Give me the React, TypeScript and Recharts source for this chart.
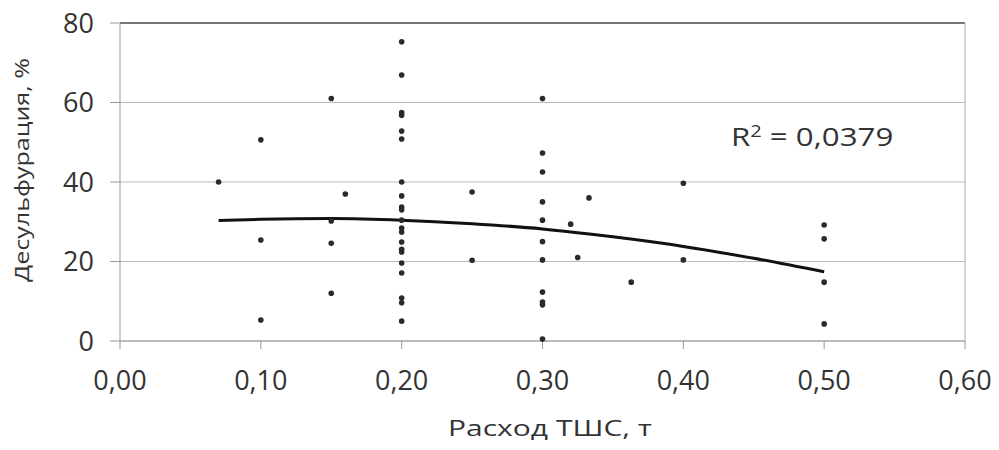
import { ComposedChart, Scatter, Line, XAxis, YAxis, CartesianGrid, ReferenceLine } from 'recharts';

// расход ТШС, т — по каждой точке
const pointX = [
  0.07,
  0.1, 0.1, 0.1,
  0.15, 0.15, 0.15, 0.15,
  0.16,
  0.2, 0.2, 0.2, 0.2, 0.2, 0.2, 0.2, 0.2, 0.2, 0.2, 0.2, 0.2, 0.2, 0.2, 0.2, 0.2, 0.2, 0.2, 0.2, 0.2, 0.2,
  0.25, 0.25,
  0.3, 0.3, 0.3, 0.3, 0.3, 0.3, 0.3, 0.3, 0.3, 0.3, 0.3,
  0.32, 0.325, 0.333, 0.363,
  0.4, 0.4,
  0.5, 0.5, 0.5, 0.5,
];

// десульфурация, %
const pointY = [
  40,
  50.6, 25.4, 5.3,
  61, 30.2, 24.6, 12,
  37,
  75.3, 66.9, 57.5, 56.8, 52.8, 50.8, 40, 36.5, 33.7, 33, 30.4, 28.4, 27.4, 24.9, 23.1, 22.4, 19.6, 17.1, 10.8, 9.6, 5,
  37.5, 20.3,
  61, 47.3, 42.5, 35, 30.4, 25, 20.4, 12.3, 9.8, 9.1, 0.5,
  29.4, 21, 36, 14.8,
  39.7, 20.4,
  29.2, 25.7, 14.8, 4.3,
];

// полиномиальная линия тренда
const trendX = [0.07, 0.1, 0.15, 0.2, 0.25, 0.3, 0.35, 0.4, 0.45, 0.5];
const trendY = [30.3, 30.6, 30.8, 30.4, 29.5, 28.2, 26.2, 23.8, 20.8, 17.4];

const xTicks = [0, 0.1, 0.2, 0.3, 0.4, 0.5, 0.6];
const yTicks = [0, 20, 40, 60, 80];

const points = pointX.map((x, i) => ({ x, y: pointY[i] }));
const trend = trendX.map((x, i) => ({ x, y: trendY[i] }));

const font = '"Open Sans", sans-serif';

const Dot = (props: any) => <circle cx={props.cx} cy={props.cy} r={2.8} fill="#2a2a2a" />;

const YTitle = () => (
  <text
    x={21}
    y={170}
    transform="rotate(-90 21 170)"
    textAnchor="middle"
    dominantBaseline="central"
    fontFamily={font}
    fontSize={20}
    fill="#333"
    textLength={224}
    lengthAdjust="spacingAndGlyphs"
  >
    Десульфурация, %
  </text>
);

const XTitle = () => (
  <text
    x={550}
    y={436}
    textAnchor="middle"
    fontFamily={font}
    fontSize={21}
    fill="#333"
    textLength={204}
    lengthAdjust="spacingAndGlyphs"
  >
    Расход ТШС, т
  </text>
);

export default function App() {
  return (
    <div style={{ position: 'relative', width: 999, height: 450, margin: -8, background: '#fff', fontFamily: font }}>
      <ComposedChart width={999} height={450} margin={{ top: 23, right: 34, bottom: 0, left: 0 }}>
        <CartesianGrid vertical={false} stroke="#bbb" />
        <XAxis
          type="number"
          dataKey="x"
          domain={[0, 0.6]}
          ticks={xTicks}
          tickFormatter={(v: number) => v.toFixed(2).replace('.', ',')}
          height={109}
          tickSize={8}
          tickMargin={22}
          stroke="#999"
          tick={{ fill: '#333', fontSize: 27, fontFamily: font }}
          label={XTitle}
        />
        <YAxis
          type="number"
          dataKey="y"
          domain={[0, 80]}
          ticks={yTicks}
          width={120}
          tickSize={10}
          tickMargin={16}
          stroke="#999"
          tick={{ fill: '#333', fontSize: 27, fontFamily: font }}
          label={YTitle}
        />
        <ReferenceLine y={80} stroke="#777" strokeWidth={2} />
        <ReferenceLine x={0.6} stroke="#aaa" />
        <Scatter data={points} shape={Dot} isAnimationActive={false} />
        <Line data={trend} dataKey="y" type="monotone" stroke="#111" strokeWidth={3} dot={false} isAnimationActive={false} />
      </ComposedChart>
      <div
        style={{
          position: 'absolute',
          left: 731,
          top: 119,
          fontSize: 25,
          color: '#333',
          fontFamily: font,
          whiteSpace: 'nowrap',
          transform: 'scaleX(1.25)',
          transformOrigin: 'left center',
        }}
      >
        R<sup style={{ fontSize: 16 }}>2</sup> = 0,0379
      </div>
    </div>
  );
}
